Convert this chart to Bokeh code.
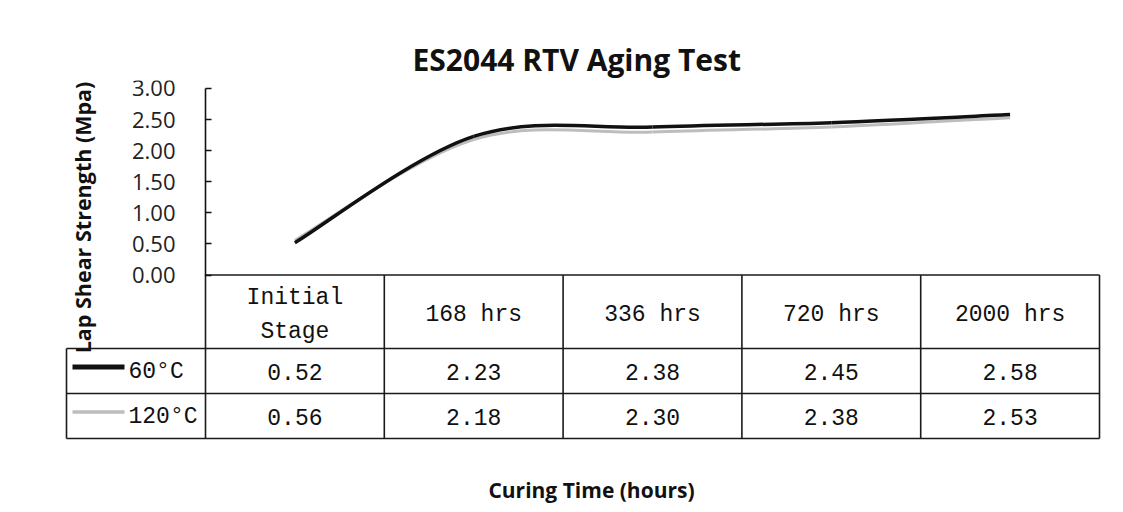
import numpy as np
from bokeh.plotting import figure
from bokeh.models import Range1d, LinearAxis, FixedTicker, ColumnDataSource
from bokeh.core.properties import value
from bokeh.embed import file_html
from bokeh.resources import INLINE

# ---------------- data ----------------
categories = ["Initial\nStage", "168 hrs", "336 hrs", "720 hrs", "2000 hrs"]
series_names = ["60°C", "120°C"]
values_60 = [0.52, 2.23, 2.38, 2.45, 2.58]
values_120 = [0.56, 2.18, 2.30, 2.38, 2.53]
y_ticks = [0.0, 0.5, 1.0, 1.5, 2.0, 2.5, 3.0]
y_tick_labels = ["0.00", "0.50", "1.00", "1.50", "2.00", "2.50", "3.00"]
title_text = "ES2044 RTV Aging Test"
y_title = "Lap Shear Strength (Mpa)"
x_title = "Curing Time (hours)"

# ---------------- layout (pixels in figure space) ----------------
W, H = 1120, 510
FRAME_L, FRAME_R, FRAME_T, FRAME_B = 64, 1118, 80, 445
AXIS_X = 205.0          # pixel x of the value axis / first table column
COL_W = 178.8           # pixel width of one category column
Y0 = 274.5              # pixel y of value 0
PPU = 62.17             # pixels per value unit
HEADER_H, ROW_H = 73.5, 45.0
LEG_L = 66.0            # left edge of the legend cells
KEY_X0, KEY_X1, LEG_TXT = 72.0, 124.0, 128.0

def dx(px):
    return (px - AXIS_X) / COL_W

def dy_below(px):
    return -px / PPU

x_range = Range1d(dx(FRAME_L), dx(FRAME_R))
y_range = Range1d((Y0 - FRAME_B) / PPU, (Y0 - FRAME_T) / PPU)

p = figure(width=W, height=H, x_range=x_range, y_range=y_range,
           output_backend="svg", toolbar_location=None,
           y_axis_location=None, title=title_text,
           min_border_left=FRAME_L, min_border_right=W - FRAME_R,
           min_border_top=FRAME_T, min_border_bottom=H - FRAME_B)
p.outline_line_color = None
p.grid.visible = False
p.background_fill_color = "white"
p.border_fill_color = "white"

p.title.text_font = "Open Sans"
p.title.text_font_style = "bold"
p.title.text_font_size = "30px"
p.title.text_color = "#111111"
p.title.align = "left"
p.title.offset = 412 - FRAME_L
p.title.standoff = 2

# x axis: only title
p.xaxis.ticker = FixedTicker(ticks=[])
p.xaxis.axis_line_color = None
p.xaxis.major_tick_line_color = None
p.xaxis.minor_tick_line_color = None
p.xaxis.major_tick_out = 0
p.xaxis.major_label_standoff = 0
p.xaxis.axis_label = x_title
p.xaxis.axis_label_text_font = "Open Sans"
p.xaxis.axis_label_text_font_style = "bold"
p.xaxis.axis_label_text_font_size = "21px"
p.xaxis.axis_label_text_color = "#111111"
p.xaxis.axis_label_standoff = 30

# y axis at x = 0 (first table column edge)
yax = LinearAxis(fixed_location=0, bounds=(y_ticks[0], y_ticks[-1]),
                 ticker=FixedTicker(ticks=y_ticks),
                 major_label_overrides={t: l for t, l in zip(y_ticks, y_tick_labels)})
yax.axis_line_color = "#111111"
yax.axis_line_width = 1.6
yax.major_tick_line_color = "#111111"
yax.major_tick_line_width = 1.6
yax.major_tick_in = 6
yax.major_tick_out = 0
yax.minor_tick_line_color = None
yax.major_label_standoff = 30
yax.major_label_text_font = "Open Sans"
yax.major_label_text_font_size = "22px"
yax.major_label_text_color = "#222222"
p.add_layout(yax, "left")

# y title as rotated text
p.text(x=[dx(82)], y=[(Y0 - 217) / PPU], text=[y_title], angle=np.pi / 2,
       text_align="center", text_baseline="middle",
       text_font=value("Open Sans"), text_font_style="bold",
       text_font_size="21.5px", text_color="#111111")

# ---------------- smoothed series (Excel-style Bezier through points) ----------------
def bezier_segments(vals):
    xs = [i + 0.5 for i in range(len(vals))]
    n = len(vals)
    out = dict(x0=[], y0=[], x1=[], y1=[], cx0=[], cy0=[], cx1=[], cy1=[])
    for i in range(n - 1):
        im1 = max(i - 1, 0)
        ip2 = min(i + 2, n - 1)
        out["x0"].append(xs[i]); out["y0"].append(vals[i])
        out["x1"].append(xs[i + 1]); out["y1"].append(vals[i + 1])
        out["cx0"].append(xs[i] + (xs[i + 1] - xs[im1]) / 6)
        out["cy0"].append(vals[i] + (vals[i + 1] - vals[im1]) / 6)
        out["cx1"].append(xs[i + 1] - (xs[ip2] - xs[i]) / 6)
        out["cy1"].append(vals[i + 1] - (vals[ip2] - vals[i]) / 6)
    return ColumnDataSource(out)

colors = {"60°C": "#111111", "120°C": "#bdbdbd"}
widths = {"60°C": 3.5, "120°C": 3.0}
p.bezier(source=bezier_segments(values_120), x0="x0", y0="y0", x1="x1", y1="y1",
         cx0="cx0", cy0="cy0", cx1="cx1", cy1="cy1",
         line_color=colors["120°C"], line_width=widths["120°C"])
p.bezier(source=bezier_segments(values_60), x0="x0", y0="y0", x1="x1", y1="y1",
         cx0="cx0", cy0="cy0", cx1="cx1", cy1="cy1",
         line_color=colors["60°C"], line_width=widths["60°C"])

# ---------------- data table ----------------
n = len(categories)
r0 = dy_below(HEADER_H)
r1 = dy_below(HEADER_H + ROW_H)
r2 = dy_below(HEADER_H + 2 * ROW_H)
lx = dx(LEG_L)
grid_col = "#1a1a1a"
p.segment(x0=[0, lx, lx, lx], y0=[0, r0, r1, r2], x1=[n] * 4, y1=[0, r0, r1, r2],
          line_color=grid_col, line_width=1.6)
p.segment(x0=list(range(n + 1)) + [lx], y0=[0] * (n + 1) + [r0],
          x1=list(range(n + 1)) + [lx], y1=[r2] * (n + 2),
          line_color=grid_col, line_width=1.6)

cx = [i + 0.5 for i in range(n)]
tbl_font = value("Liberation Mono")
p.text(x=cx, y=[dy_below(HEADER_H / 2 + 3)] * n, text=categories,
       text_align="center", text_baseline="middle", text_font=tbl_font,
       text_font_size="23px", text_color="#111111", text_line_height=1.3)
for k, vals in enumerate([values_60, values_120]):
    yc = dy_below(HEADER_H + ROW_H * k + ROW_H / 2 + 1)
    p.text(x=cx, y=[yc] * n, text=[f"{v:.2f}" for v in vals],
           text_align="center", text_baseline="middle", text_font=tbl_font,
           text_font_size="23px", text_color="#111111")
    name = series_names[k]
    p.text(x=[dx(LEG_TXT)], y=[yc], text=[name], text_align="left",
           text_baseline="middle", text_font=tbl_font, text_font_size="23px",
           text_color="#111111")
    ky = dy_below(HEADER_H + ROW_H * k + ROW_H / 2 - 4)
    p.segment(x0=[dx(KEY_X0)], y0=[ky], x1=[dx(KEY_X1)], y1=[ky],
              line_color=colors[name], line_width=5 if k == 0 else 3.5)

open("out.html", "w").write(file_html(p, INLINE))
